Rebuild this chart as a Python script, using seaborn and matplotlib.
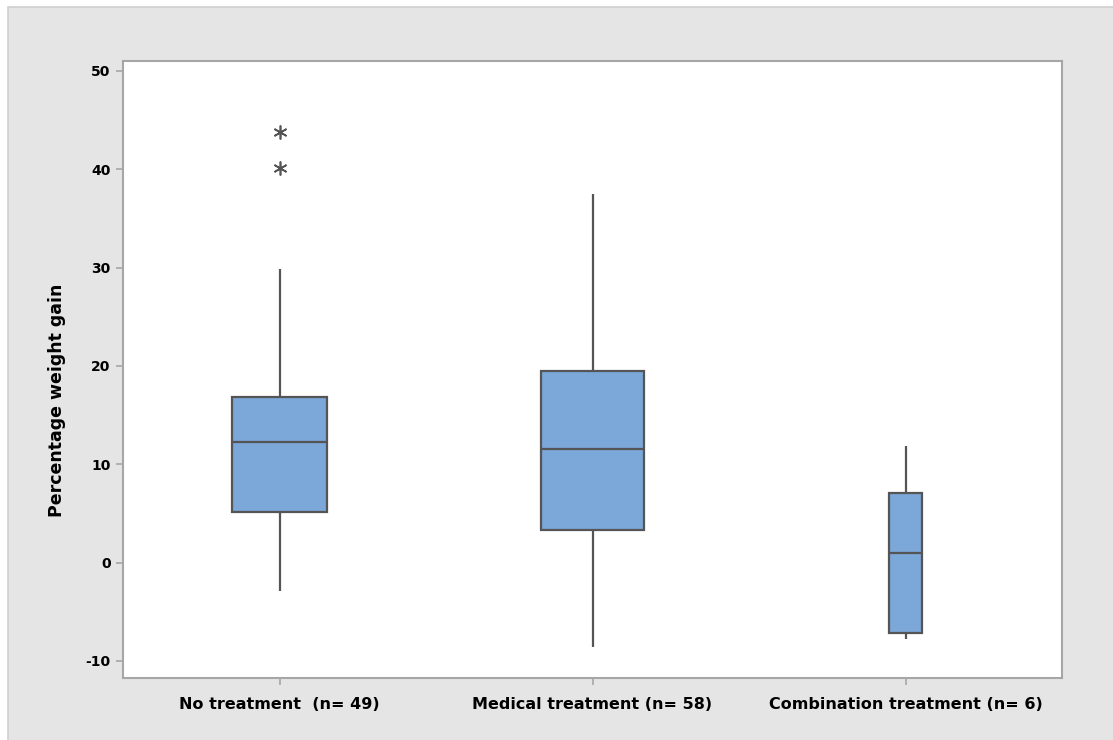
import matplotlib
matplotlib.use("Agg")
import matplotlib.pyplot as plt
import numpy as np
import pandas as pd
import seaborn as sns
from matplotlib.patches import Rectangle

# ---- data ----
categories = ["No treatment  (n= 49)", "Medical treatment (n= 58)", "Combination treatment (n= 6)"]
group_n = [49, 58, 6]
whisker_low = [-2.85, -8.55, -7.8]
q1 = [5.1, 3.35, -7.2]
median = [12.3, 11.55, 1.0]
q3 = [16.8, 19.5, 7.05]
whisker_high = [29.85, 37.45, 11.9]
outlier_group = ["No treatment  (n= 49)", "No treatment  (n= 49)"]
outlier_values = [43.75, 40.1]

y_ticks = [-10, 0, 10, 20, 30, 40, 50]

BOX_COLOR = "#7BA7D9"
LINE_COLOR = "#555555"
SPINE_COLOR = "#A6A6A6"
BG_GRAY = "#E5E5E5"

sns.set_style("white")
plt.rcParams["font.family"] = ["DejaVu Sans"]

fig = plt.figure(figsize=(11.13, 7.40), dpi=100, facecolor="white")
# gray panel, border only visible at left and top
bg = Rectangle((8 / 1113, -0.05), 1.1, 1.05 - 7 / 740,
               transform=fig.transFigure, facecolor=BG_GRAY,
               edgecolor="#CFCFCF", linewidth=1.2, zorder=-10)
fig.add_artist(bg)
ax = fig.add_axes([123 / 1113, 1 - 677.7 / 740, (1062 - 123) / 1113, (677.7 - 61) / 740])
ax.set_zorder(1)
ax.set_facecolor("white")

# box widths follow sqrt(n), as in the reference
max_w = 0.332
widths = [max_w * np.sqrt(n) / np.sqrt(max(group_n)) for n in group_n]

for i, cat in enumerate(categories):
    five = [whisker_low[i], q1[i], median[i], q3[i], whisker_high[i]]
    df = pd.DataFrame({"group": [cat] * 5, "gain": five})
    sns.boxplot(data=df, x="group", y="gain", order=categories, ax=ax,
                width=widths[i], whis=(0, 100), color=BOX_COLOR, saturation=1,
                linecolor=LINE_COLOR, linewidth=1.6, showcaps=False,
                medianprops={"color": LINE_COLOR, "linewidth": 1.6})

out_x = [categories.index(g) for g in outlier_group]
ax.plot(out_x, outlier_values, linestyle="none", marker=(6, 2, 0), markersize=10,
        markeredgecolor=LINE_COLOR, markeredgewidth=1.2, zorder=5)

ax.set_xlim(-0.5, 2.5)
ax.set_ylim(-11.7, 51)
ax.set_yticks(y_ticks)
ax.set_yticklabels([str(t) for t in y_ticks], fontsize=10, fontweight="bold")
ax.set_xticks(range(len(categories)))
ax.set_xticklabels(categories, fontsize=11.5, fontweight="bold")
ax.set_xlabel("")
ax.set_ylabel("Percentage weight gain", fontsize=12.5, fontweight="bold", color="black")
ax.yaxis.set_label_coords(-0.061, 0.45)

for side in ["top", "right", "left", "bottom"]:
    ax.spines[side].set_visible(True)
    ax.spines[side].set_color(SPINE_COLOR)
    ax.spines[side].set_linewidth(1.5)
ax.tick_params(axis="both", direction="out", length=5, width=1.2, color=SPINE_COLOR,
               labelcolor="black", bottom=True, left=True)
ax.tick_params(axis="x", pad=9)
ax.tick_params(axis="y", pad=4)

fig.savefig("out.png", dpi=100, facecolor=fig.get_facecolor())
